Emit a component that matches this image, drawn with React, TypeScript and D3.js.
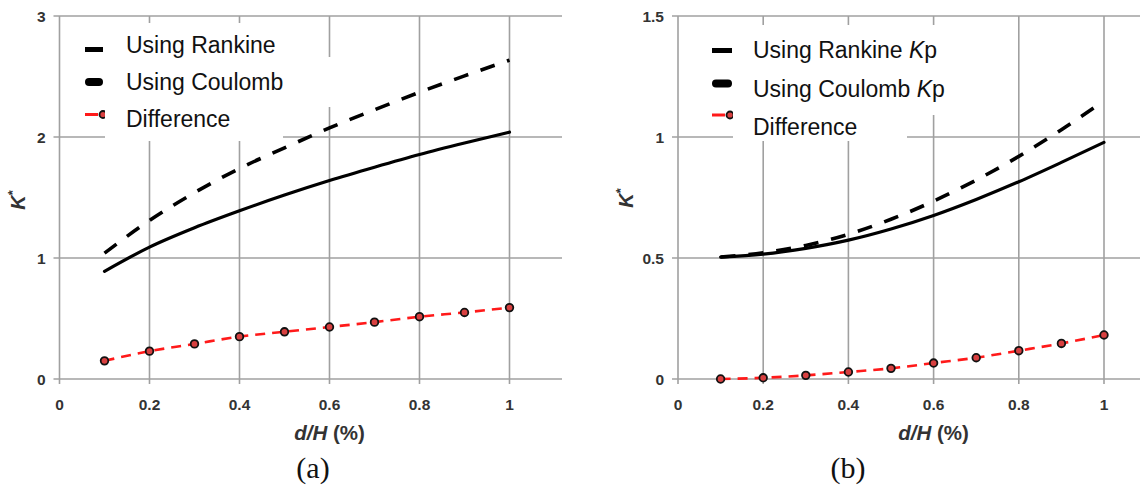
import React from 'react';
import * as d3 from 'd3';

const dH = [0.1, 0.2, 0.3, 0.4, 0.5, 0.6, 0.7, 0.8, 0.9, 1.0];
const rankineA = [0.89, 1.09, 1.25, 1.39, 1.52, 1.64, 1.75, 1.855, 1.95, 2.04];
const coulombA = [1.04, 1.31, 1.54, 1.74, 1.91, 2.075, 2.225, 2.37, 2.505, 2.635];
const differenceA = [0.15, 0.23, 0.29, 0.35, 0.39, 0.43, 0.47, 0.515, 0.55, 0.59];
const rankineB = [0.504, 0.516, 0.54, 0.574, 0.62, 0.676, 0.742, 0.815, 0.895, 0.978];
const coulombB = [0.504, 0.522, 0.552, 0.598, 0.66, 0.735, 0.822, 0.92, 1.03, 1.15];
const differenceB = [0, 0.005, 0.015, 0.029, 0.044, 0.066, 0.088, 0.117, 0.147, 0.182];
const xTicks = [0, 0.2, 0.4, 0.6, 0.8, 1];
const yTicksA = [0, 1, 2, 3];
const yTicksB = [0, 0.5, 1, 1.5];
const legendA = ['Using Rankine', 'Using Coulomb', 'Difference'];
const legendB = ['Using Rankine Kp', 'Using Coulomb Kp', 'Difference'];
const captions = ['(a)', '(b)'];

const GRID = '#a0a0a0';
const TICK = '#333';
const SANS = '"Liberation Sans", Arial, sans-serif';

type Rect = { x: number; y: number; w: number; h: number };

interface PanelProps {
  x0: number; x1: number; xRight: number;
  yMax: number; yTicks: number[];
  rankine: number[]; coulomb: number[]; diff: number[];
  legend: string[]; caption: string; captionX: number;
  legRects: Rect[]; legTopRect: Rect;
  symX: number; symW: number; symY: number[];
  textX: number; textY: number[];
  yTitleX: number; yTitleY: number;
  tickFmt: (v: number) => string;
}

function LegendLabel({ label }: { label: string }) {
  const m = label.match(/^(.*) Kp$/);
  if (m) {
    return (
      <>
        {m[1] + ' '}
        <tspan fontStyle="italic">K</tspan>
        p
      </>
    );
  }
  return <>{label}</>;
}

function Panel(p: PanelProps) {
  const top = 16, bottom = 379;
  const x = d3.scaleLinear().domain([0, 1]).range([p.x0, p.x1]);
  const y = d3.scaleLinear().domain([0, p.yMax]).range([bottom, top]);
  const line = d3.line<number>()
    .x((_, i) => x(dH[i]))
    .y((d) => y(d))
    .curve(d3.curveMonotoneX);
  const left = x(0);
  return (
    <g>
      {xTicks.filter((t) => t > 0).map((t) => (
        <line key={'vx' + t} x1={x(t)} x2={x(t)} y1={top} y2={bottom + 5} stroke={GRID} strokeWidth={1.6} />
      ))}
      {p.yTicks.filter((t) => t > 0).map((t) => (
        <line key={'hy' + t} x1={left - 6} x2={p.xRight} y1={y(t)} y2={y(t)} stroke={GRID} strokeWidth={1.6} />
      ))}
      <line x1={left} x2={left} y1={top} y2={bottom + 5} stroke={GRID} strokeWidth={1.6} />
      <line x1={left - 6} x2={p.xRight} y1={bottom} y2={bottom} stroke={GRID} strokeWidth={1.6} />
      {xTicks.map((t) => (
        <text key={'xt' + t} x={x(t)} y={410} textAnchor="middle" fontFamily={SANS} fontWeight="bold" fontSize={15.5} fill={TICK}>
          {p.tickFmt(t)}
        </text>
      ))}
      {p.yTicks.map((t) => (
        <text key={'yt' + t} x={left - 14} y={y(t) + 5.5} textAnchor="end" fontFamily={SANS} fontWeight="bold" fontSize={15.5} fill={TICK}>
          {p.tickFmt(t)}
        </text>
      ))}
      <text x={x(0.6)} y={440} textAnchor="middle" fontFamily={SANS} fontWeight="bold" fontSize={20.5} fill={TICK}>
        <tspan fontStyle="italic">d/H</tspan> (%)
      </text>
      <text transform={`translate(${p.yTitleX},${p.yTitleY}) rotate(-90)`} textAnchor="middle" fontFamily={SANS} fontWeight="bold" fontSize={20} fill={TICK}>
        <tspan fontStyle="italic">K</tspan>
        <tspan fontSize={13} dy={-8}>*</tspan>
      </text>
      <path d={line(p.rankine) || ''} fill="none" stroke="#000" strokeWidth={3.2} strokeLinecap="round" />
      <path d={line(p.coulomb) || ''} fill="none" stroke="#000" strokeWidth={3.6} strokeDasharray="15,13" />
      <path d={line(p.diff) || ''} fill="none" stroke="#ff1a1a" strokeWidth={2.6} strokeDasharray="10,7" />
      {p.diff.map((d, i) => (
        <circle key={'m' + i} cx={x(dH[i])} cy={y(d)} r={3.8} fill="#d84040" stroke="#111" strokeWidth={1.8} />
      ))}
      {p.legRects.map((r, i) => (
        <rect key={'lr' + i} x={r.x} y={r.y} width={r.w} height={r.h} fill="#fff" />
      ))}
      <rect x={p.symX} y={p.symY[0] - 2.5} width={p.symW} height={5} fill="#000" />
      <line x1={p.symX + 4} x2={p.symX + p.symW - 4} y1={p.symY[1]} y2={p.symY[1]} stroke="#000" strokeWidth={8} strokeLinecap="round" />
      <line x1={p.symX} x2={p.symX + 13} y1={p.symY[2]} y2={p.symY[2]} stroke="#ff1a1a" strokeWidth={3} />
      <circle cx={p.symX + 18} cy={p.symY[2]} r={3.5} fill="#d84040" stroke="#111" strokeWidth={1.8} />
      <rect x={p.legTopRect.x} y={p.legTopRect.y} width={p.legTopRect.w} height={p.legTopRect.h} fill="#fff" />
      {p.legend.map((l, i) => (
        <text key={'lt' + i} x={p.textX} y={p.textY[i]} fontFamily={SANS} fontSize={23} fill="#111">
          <LegendLabel label={l} />
        </text>
      ))}
      <text x={p.captionX} y={478} textAnchor="middle" fontFamily='"Liberation Serif", "Times New Roman", serif' fontSize={30} fill="#111">
        {p.caption}
      </text>
    </g>
  );
}

const fmt = (v: number) => (v === 0 ? '0' : String(v));

export default function App() {
  return (
    <svg width={1140} height={490} style={{ position: 'absolute', left: 0, top: 0, background: '#fff' }}>
      <rect x={0} y={0} width={1140} height={490} fill="#fff" />
      <Panel
        x0={59.5} x1={509.5} xRight={562}
        yMax={3} yTicks={yTicksA}
        rankine={rankineA} coulomb={coulombA} diff={differenceA}
        legend={legendA} caption={captions[0]} captionX={313}
        legRects={[{ x: 76, y: 23, w: 214, h: 110 }, { x: 290, y: 57, w: 42, h: 50 }]}
        legTopRect={{ x: 105, y: 23, w: 178, h: 118 }}
        symX={85} symW={18} symY={[49.5, 82, 114.5]}
        textX={126} textY={[53, 90, 127]}
        yTitleX={25} yTitleY={200}
        tickFmt={fmt}
      />
      <Panel
        x0={678} x1={1104} xRight={1140}
        yMax={1.5} yTicks={yTicksB}
        rankine={rankineB} coulomb={coulombB} diff={differenceB}
        legend={legendB} caption={captions[1]} captionX={848}
        legRects={[{ x: 700, y: 25, w: 255, h: 90 }]}
        legTopRect={{ x: 733, y: 25, w: 174, h: 116 }}
        symX={712} symW={20} symY={[50.5, 83.5, 115]}
        textX={753} textY={[58, 97, 135]}
        yTitleX={633} yTitleY={198}
        tickFmt={fmt}
      />
    </svg>
  );
}
